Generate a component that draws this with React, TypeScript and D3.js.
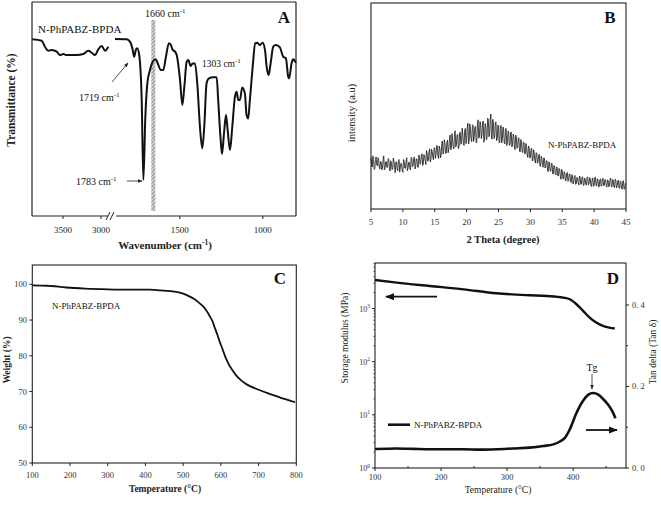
import React from "react";
import * as d3 from "d3";

// ---------- Panel A: FTIR ----------
const irLeftWn = [3904, 3780, 3737, 3693, 3649, 3583, 3540, 3496, 3451, 3320, 3233, 3167, 3122, 3079, 3035, 2990, 2947, 2904];
const irLeftT = [82.6, 81.9, 79.1, 77.2, 77.6, 76.8, 75.2, 75.7, 75.2, 75.2, 75.7, 77.2, 76.3, 75.2, 77.9, 79.4, 77.2, 79.1];
const irRightWn = [1891, 1821, 1801, 1784, 1776, 1764, 1757, 1745, 1730, 1720, 1708, 1696, 1680, 1664, 1646, 1630, 1616, 1600, 1584, 1566, 1554, 1543, 1529, 1519, 1499, 1485, 1473, 1459, 1449, 1435, 1423, 1409, 1395, 1379, 1365, 1353, 1339, 1325, 1299, 1278, 1269, 1254, 1246, 1234, 1222, 1212, 1198, 1184, 1168, 1158, 1148, 1138, 1124, 1108, 1098, 1088, 1078, 1061, 1046, 1034, 1018, 1001, 987, 977, 965, 953, 937, 921, 897, 877, 861, 847, 841, 827, 817, 801];
const irRightT = [82.7, 82.6, 81.5, 77.6, 74.4, 77.9, 78.4, 75.2, 54.2, 16.8, 46.4, 62, 68.2, 72.1, 73.2, 70.6, 68.2, 68.2, 74.4, 80.7, 79.9, 77.6, 76.8, 75.2, 63.6, 51.9, 60.4, 72.1, 72.9, 70.1, 71.3, 71.3, 62, 41.7, 31.6, 41.7, 62, 64.3, 64.8, 64.8, 54.2, 35.5, 29, 38.6, 47.2, 40.2, 30.8, 41.7, 55.8, 58.1, 54.2, 54.2, 60.1, 57.3, 47.2, 45.6, 54.2, 69.8, 80.7, 81, 79.9, 81, 77.6, 69.8, 65.9, 71.3, 79.1, 79.9, 78.8, 74.4, 73.7, 65.1, 64.3, 71.3, 73.2, 71.6];
const aTicksLeft = [3500, 3000];
const aTicksRight = [1500, 1000];
const aBand = [1672, 1648];

// ---------- Panel B: XRD ----------
// readings at 5.0, 5.2, 5.4 ... 45.0 (2θ)
const bThetaStart = 5;
const bThetaStep = 0.1;
const bIntensityEven = [
  250, 204, 240, 196, 253, 209, 241, 194, 228, 199, 258, 195, 231, 203, 240, 184, 223, 194, 233, 176,
  228, 186, 240, 200, 215, 178, 231, 197, 249, 195, 228, 190, 245, 213, 253, 203, 243, 201, 254, 225,
  268, 218, 256, 216, 273, 236, 292, 240, 279, 239, 295, 263, 306, 245, 295, 261, 330, 279, 318, 272,
  334, 290, 359, 294, 333, 292, 380, 315, 362, 300, 373, 324, 364, 308, 391, 339, 416, 332, 384, 327,
  409, 354, 400, 327, 433, 347, 411, 357, 427, 340, 406, 346, 436, 366, 461, 339, 418, 350, 423, 340,
  402, 324, 406, 340, 382, 316, 390, 323, 371, 310, 373, 311, 352, 288, 349, 300, 346, 277, 325, 274,
  323, 268, 303, 250, 300, 250, 295, 235, 271, 223, 271, 227, 266, 208, 247, 203, 247, 205, 235, 181,
  225, 183, 222, 171, 204, 165, 203, 162, 191, 144, 185, 145, 172, 138, 177, 138, 169, 128, 161, 131,
  163, 122, 151, 117, 156, 122, 156, 115, 145, 116, 155, 120, 147, 109, 151, 115, 155, 111, 141, 108,
  146, 113, 149, 117, 141, 106, 138, 112, 150, 107, 140, 104, 141, 109, 140, 101, 133, 96, 137, 98,
  122,
];
// readings at 5.1, 5.3, 5.5 ... 44.9 (2θ)
const bIntensityOdd = [
  217, 258, 192, 241, 216, 249, 203, 231, 190, 240, 190, 229, 201, 245, 194, 234, 191, 247, 201, 228,
  195, 235, 180, 222, 188, 240, 199, 231, 186, 226, 197, 251, 205, 244, 194, 244, 204, 262, 217, 263,
  211, 264, 235, 284, 232, 277, 228, 290, 250, 298, 246, 309, 258, 306, 249, 318, 267, 336, 270, 324,
  273, 334, 288, 366, 300, 368, 301, 360, 293, 371, 314, 392, 316, 382, 317, 395, 316, 413, 339, 406,
  328, 399, 321, 417, 344, 425, 342, 418, 324, 415, 336, 441, 351, 431, 341, 435, 342, 419, 332, 407,
  321, 402, 321, 398, 322, 390, 308, 378, 310, 372, 301, 364, 300, 359, 295, 343, 281, 337, 281, 325,
  268, 318, 261, 306, 248, 290, 235, 288, 236, 274, 222, 260, 208, 256, 212, 248, 199, 233, 186, 229,
  185, 221, 170, 211, 172, 203, 161, 197, 159, 192, 149, 181, 137, 174, 134, 170, 134, 167, 122, 157,
  120, 154, 127, 160, 119, 154, 115, 150, 119, 155, 117, 152, 113, 146, 110, 152, 117, 147, 108, 143,
  110, 147, 112, 144, 114, 141, 108, 145, 113, 143, 109, 145, 102, 135, 101, 136, 102, 135, 96, 124,
];
const bTicks = [5, 10, 15, 20, 25, 30, 35, 40, 45];

// ---------- Panel C: TGA ----------
const tgaTemp = [100, 140, 190, 240, 300, 360, 412, 440, 465, 485, 500, 515, 527, 540, 553, 562, 571, 578, 584, 591, 598, 605, 611, 620, 629, 640, 651, 663, 677, 700, 722, 745, 766, 785, 797];
const tgaWeight = [99.7, 99.6, 99.1, 98.8, 98.6, 98.5, 98.5, 98.3, 98.1, 97.8, 97.4, 96.7, 96.0, 95.0, 93.8, 92.6, 91.0, 89.6, 87.8, 85.8, 83.6, 81.7, 79.9, 77.8, 76.2, 74.6, 73.4, 72.4, 71.5, 70.5, 69.6, 68.8, 68.0, 67.4, 67.0];
const cXTicks = [100, 200, 300, 400, 500, 600, 700, 800];
const cYTicks = [50, 60, 70, 80, 90, 100];

// ---------- Panel D: DMA ----------
const dmaTemp = [100, 133, 183, 234, 284, 334, 360, 385, 395, 405, 415, 425, 435, 445, 455, 463];
const dmaModulus = [3450, 3075, 2660, 2300, 1940, 1780, 1725, 1607, 1495, 1205, 904, 677, 545, 472, 439, 421];
const tanTemp = [100, 133, 158, 183, 208, 234, 259, 284, 309, 334, 355, 370, 380, 388, 395, 405, 415, 423, 430, 438, 445, 453, 460, 464];
const tanDelta = [0.0465, 0.048, 0.047, 0.046, 0.046, 0.046, 0.045, 0.046, 0.048, 0.05, 0.054, 0.058, 0.065, 0.075, 0.095, 0.135, 0.165, 0.18, 0.184, 0.18, 0.17, 0.155, 0.137, 0.122];
const dXTicks = [100, 200, 300, 400];
const dXMinor = [150, 250, 350, 450];
const dDecades = [1, 10, 100, 1000];
const dDecadeExp = ["0", "1", "2", "3"];
const dRightTicks = [0, 0.2, 0.4];
const dRightLabels = ["0. 0", "0. 2", "0. 4"];
const dRightMinor = [0.1, 0.3];

const serif = "'Liberation Serif', 'Times New Roman', serif";
const sampleName = "N-PhPABZ-BPDA";

function Cm({ n, size, sup }: { n: string; size: number; sup: number }) {
  return (
    <>
      {n} cm<tspan dy={-size * 0.4} fontSize={sup}>-1</tspan>
    </>
  );
}

export default function App() {
  // ----- A scales -----
  const axL = d3.scaleLinear().domain([3908, 2855]).range([32, 112]);
  const axR = d3.scaleLinear().domain([1909, 800]).range([112, 296]);
  const ayA = d3.scaleLinear().domain([0, 100]).range([216, 2]);
  const lineAL = d3
    .line<number>()
    .x((d) => axL(d))
    .y((_, i) => ayA(irLeftT[i]))
    .curve(d3.curveMonotoneX);
  const lineAR = d3
    .line<number>()
    .x((d) => axR(d))
    .y((_, i) => ayA(irRightT[i]))
    .curve(d3.curveMonotoneX);

  // ----- B scales -----
  const bIntensity: number[] = [];
  bIntensityEven.forEach((v, i) => {
    bIntensity.push(v);
    if (i < bIntensityOdd.length) bIntensity.push(bIntensityOdd[i]);
  });
  const bx = d3.scaleLinear().domain([5, 45]).range([371, 626]);
  const by = d3.scaleLinear().domain([0, 1000]).range([209, 3]);
  const lineB = d3
    .line<number>()
    .x((_, i) => bx(bThetaStart + i * bThetaStep))
    .y((d) => by(d));

  // ----- C scales -----
  const cx = d3.scaleLinear().domain([100, 800]).range([32.3, 296.3]);
  const cy = d3.scaleLinear().domain([50, 105.4]).range([463, 265]);
  const lineC = d3
    .line<number>()
    .x((d) => cx(d))
    .y((_, i) => cy(tgaWeight[i]))
    .curve(d3.curveMonotoneX);

  // ----- D scales -----
  const dx = d3.scaleLinear().domain([100, 480]).range([375, 626]);
  const dyL = d3.scaleLog().domain([1, 7200]).range([468, 263]);
  const dyR = d3.scaleLinear().domain([0, 0.503]).range([468, 263]);
  const lineDM = d3
    .line<number>()
    .x((d) => dx(d))
    .y((_, i) => dyL(dmaModulus[i]))
    .curve(d3.curveMonotoneX);
  const lineDT = d3
    .line<number>()
    .x((d) => dx(d))
    .y((_, i) => dyR(tanDelta[i]))
    .curve(d3.curveMonotoneX);
  const dMinorLog: number[] = [];
  dDecades.forEach((dec) => {
    for (let k = 2; k <= 9; k++) {
      const v = dec * k;
      if (v <= 7200) dMinorLog.push(v);
    }
  });

  const axisStroke = "#222";

  return (
    <svg
      width={661}
      height={512}
      viewBox="0 0 661 512"
      style={{ position: "absolute", left: 0, top: 0, display: "block", background: "#fff" }}
      fontFamily={serif}
    >
      <defs>
        <pattern id="hatch" width="2.6" height="2.6" patternUnits="userSpaceOnUse" patternTransform="rotate(45)">
          <rect width="2.6" height="2.6" fill="#d0d0d0" />
          <line x1="0" y1="0" x2="0" y2="2.6" stroke="#6a6a6a" strokeWidth="1.2" />
        </pattern>
        <marker id="arrSmall" viewBox="0 0 8 8" refX="7" refY="4" markerWidth="6" markerHeight="6" orient="auto">
          <path d="M0,1 L8,4 L0,7 z" fill="#222" />
        </marker>
        <marker id="arrBig" viewBox="0 0 10 10" refX="9" refY="5" markerWidth="5" markerHeight="5" orient="auto">
          <path d="M0,1 L10,5 L0,9 z" fill="#111" />
        </marker>
      </defs>
      <rect x={0} y={0} width={661} height={512} fill="#fff" />

      {/* ================= Panel A ================= */}
      <g>
        <rect
          x={axR(aBand[0])}
          y={20}
          width={axR(aBand[1]) - axR(aBand[0])}
          height={191}
          fill="url(#hatch)"
        />
        <line x1={32} y1={2} x2={296} y2={2} stroke={axisStroke} strokeWidth={1.2} />
        <line x1={32} y1={2} x2={32} y2={216} stroke={axisStroke} strokeWidth={1.2} />
        <line x1={296} y1={2} x2={296} y2={216} stroke={axisStroke} strokeWidth={1.2} />
        <line x1={32} y1={216} x2={108} y2={216} stroke={axisStroke} strokeWidth={1.2} />
        <line x1={116} y1={216} x2={296} y2={216} stroke={axisStroke} strokeWidth={1.2} />
        <line x1={106} y1={220} x2={110} y2={212} stroke={axisStroke} strokeWidth={1} />
        <line x1={110} y1={220} x2={114} y2={212} stroke={axisStroke} strokeWidth={1} />
        {aTicksLeft.map((t) => (
          <g key={"al" + t}>
            <line x1={axL(t)} y1={216} x2={axL(t)} y2={219} stroke={axisStroke} />
            <text x={axL(t)} y={233} fontSize={9} textAnchor="middle" fill="#222">
              {t}
            </text>
          </g>
        ))}
        {aTicksRight.map((t) => (
          <g key={"ar" + t}>
            <line x1={axR(t)} y1={216} x2={axR(t)} y2={219} stroke={axisStroke} />
            <text x={axR(t)} y={233} fontSize={9} textAnchor="middle" fill="#222">
              {t}
            </text>
          </g>
        ))}
        <path d={lineAL(irLeftWn) || ""} fill="none" stroke="#111" strokeWidth={2} strokeLinejoin="round" />
        <path d={lineAR(irRightWn) || ""} fill="none" stroke="#111" strokeWidth={2} strokeLinejoin="round" />
        <text x={165} y={249} fontSize={11} fontWeight="bold" textAnchor="middle" fill="#222">
          Wavenumber (cm<tspan dy={-4} fontSize={7.5}>-1</tspan>
          <tspan dy={4}>)</tspan>
        </text>
        <text transform="translate(15,100) rotate(-90)" fontSize={11.5} fontWeight="bold" textAnchor="middle" fill="#222">
          Transmittance (%)
        </text>
        <text x={38} y={33} fontSize={11} fill="#111">
          {sampleName}
        </text>
        <text x={284} y={23} fontSize={17} fontWeight="bold" textAnchor="middle" fill="#111">
          A
        </text>
        <text x={145} y={17} fontSize={10} fill="#111">
          <Cm n="1660" size={10} sup={7} />
        </text>
        <text x={202} y={67} fontSize={9.5} fill="#111">
          <Cm n="1303" size={9.5} sup={7} />
        </text>
        <text x={79} y={101} fontSize={10} fill="#111">
          <Cm n="1719" size={10} sup={7} />
        </text>
        <text x={76} y={185} fontSize={10} fill="#111">
          <Cm n="1783" size={10} sup={7} />
        </text>
        <line x1={112} y1={82} x2={128} y2={63} stroke="#222" strokeWidth={0.8} markerEnd="url(#arrSmall)" />
        <line x1={127} y1={181} x2={142} y2={181} stroke="#222" strokeWidth={0.8} markerEnd="url(#arrSmall)" />
      </g>

      {/* ================= Panel B ================= */}
      <g>
        <rect x={371} y={3} width={255} height={206} fill="none" stroke={axisStroke} strokeWidth={1.1} />
        {bTicks.map((t) => (
          <g key={"b" + t}>
            <line x1={bx(t)} y1={209} x2={bx(t)} y2={212} stroke={axisStroke} />
            <text x={bx(t)} y={225} fontSize={9} textAnchor="middle" fill="#333">
              {t}
            </text>
          </g>
        ))}
        <path d={lineB(bIntensity) || ""} fill="none" stroke="#111" strokeWidth={0.8} />
        <text x={503} y={243} fontSize={10.5} fontWeight="bold" textAnchor="middle" fill="#222">
          2 Theta (degree)
        </text>
        <text transform="translate(355,113) rotate(-90)" fontSize={10.5} textAnchor="middle" fill="#222">
          intensity (a.u)
        </text>
        <text x={610} y={23} fontSize={17} fontWeight="bold" textAnchor="middle" fill="#111">
          B
        </text>
        <text x={548} y={148} fontSize={9} fill="#111">
          {sampleName}
        </text>
      </g>

      {/* ================= Panel C ================= */}
      <g>
        <rect x={32.3} y={265} width={264} height={198} fill="none" stroke={axisStroke} strokeWidth={1.1} />
        {cXTicks.map((t) => (
          <g key={"cx" + t}>
            <line x1={cx(t)} y1={463} x2={cx(t)} y2={466} stroke={axisStroke} />
            <text x={cx(t)} y={478} fontSize={8.5} textAnchor="middle" fill="#333">
              {t}
            </text>
          </g>
        ))}
        {cYTicks.map((t) => (
          <g key={"cy" + t}>
            <line x1={29.3} y1={cy(t)} x2={32.3} y2={cy(t)} stroke={axisStroke} />
            <text x={27} y={cy(t) + 3} fontSize={8.5} textAnchor="end" fill="#333">
              {t}
            </text>
          </g>
        ))}
        <path d={lineC(tgaTemp) || ""} fill="none" stroke="#111" strokeWidth={1.8} />
        <text x={165} y={492} fontSize={9.5} fontWeight="bold" textAnchor="middle" fill="#222">
          Temperature (°C)
        </text>
        <text transform="translate(10,360) rotate(-90)" fontSize={9.5} fontWeight="bold" textAnchor="middle" fill="#222">
          Weight (%)
        </text>
        <text x={280} y={284} fontSize={17} fontWeight="bold" textAnchor="middle" fill="#111">
          C
        </text>
        <text x={52} y={309} fontSize={9} fill="#111">
          {sampleName}
        </text>
      </g>

      {/* ================= Panel D ================= */}
      <g>
        <rect x={375} y={263} width={251} height={205} fill="none" stroke={axisStroke} strokeWidth={1.1} />
        {dXTicks.map((t) => (
          <g key={"dx" + t}>
            <line x1={dx(t)} y1={468} x2={dx(t)} y2={471} stroke={axisStroke} />
            <text x={dx(t)} y={480} fontSize={8.5} textAnchor="middle" fill="#333">
              {t}
            </text>
          </g>
        ))}
        {dXMinor.map((t) => (
          <line key={"dxm" + t} x1={dx(t)} y1={466} x2={dx(t)} y2={468} stroke={axisStroke} />
        ))}
        {dDecades.map((t, i) => (
          <g key={"dyl" + t}>
            <line x1={372} y1={dyL(t)} x2={375} y2={dyL(t)} stroke={axisStroke} />
            <text x={370} y={dyL(t) + 3} fontSize={8} textAnchor="end" fill="#333">
              10<tspan dy={-3.5} fontSize={5.5}>{dDecadeExp[i]}</tspan>
            </text>
          </g>
        ))}
        {dMinorLog.map((t) => (
          <line key={"dlm" + t} x1={373.5} y1={dyL(t)} x2={375} y2={dyL(t)} stroke={axisStroke} strokeWidth={0.8} />
        ))}
        {dRightTicks.map((t, i) => (
          <g key={"dr" + t}>
            <line x1={626} y1={dyR(t)} x2={629} y2={dyR(t)} stroke={axisStroke} />
            <text x={632} y={dyR(t) + 3} fontSize={8.5} fill="#333">
              {dRightLabels[i]}
            </text>
          </g>
        ))}
        {dRightMinor.map((t) => (
          <line key={"drm" + t} x1={626} y1={dyR(t)} x2={628} y2={dyR(t)} stroke={axisStroke} />
        ))}
        <path d={lineDM(dmaTemp) || ""} fill="none" stroke="#111" strokeWidth={2.4} />
        <path d={lineDT(tanTemp) || ""} fill="none" stroke="#111" strokeWidth={2.6} />
        <line x1={437} y1={296.7} x2={386} y2={296.7} stroke="#111" strokeWidth={1.8} markerEnd="url(#arrBig)" />
        <line x1={586} y1={430} x2={617} y2={430} stroke="#111" strokeWidth={1.8} markerEnd="url(#arrBig)" />
        <line x1={388} y1={424.7} x2={410} y2={424.7} stroke="#111" strokeWidth={2.6} />
        <text x={414} y={428} fontSize={9} fill="#111">
          {sampleName}
        </text>
        <text x={592} y={371} fontSize={10} textAnchor="middle" fill="#111">
          Tg
        </text>
        <line x1={592} y1={374} x2={592} y2={389} stroke="#222" strokeWidth={0.8} markerEnd="url(#arrSmall)" />
        <text x={498} y={493} fontSize={9.5} textAnchor="middle" fill="#222">
          Temperature (°C)
        </text>
        <text transform="translate(348,338) rotate(-90)" fontSize={9.5} textAnchor="middle" fill="#222">
          Storage modulus (MPa)
        </text>
        <text transform="translate(656,352) rotate(-90)" fontSize={9.5} textAnchor="middle" fill="#222">
          Tan delta (Tan δ)
        </text>
        <text x={613} y={284} fontSize={17} fontWeight="bold" textAnchor="middle" fill="#111">
          D
        </text>
      </g>
    </svg>
  );
}
